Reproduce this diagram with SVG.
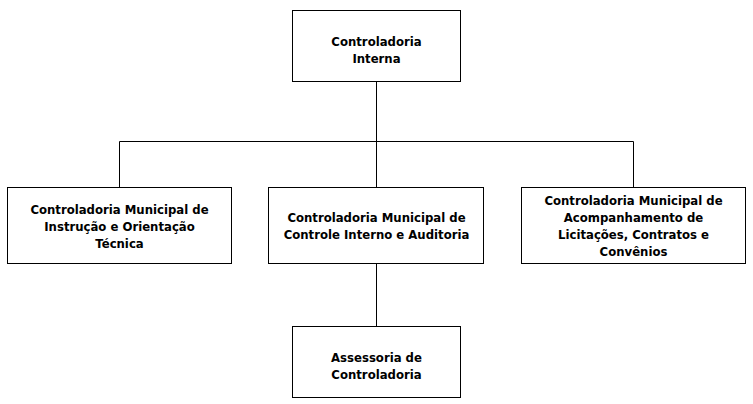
<svg xmlns="http://www.w3.org/2000/svg" width="753" height="404" viewBox="0 0 753 404">
<style>
.box{fill:#fff;stroke:#000;stroke-width:1}
.t{font-family:"DejaVu Sans","Liberation Sans",sans-serif;font-weight:bold;font-size:11.7px;text-anchor:middle;fill:#000}
.c{stroke:#000;stroke-width:1;fill:none}
</style>
<rect width="753" height="404" fill="#fff"/>
<g id="connectors">
<path class="c" d="M376.5 81V141.5M119.5 141.5H633.5M119.5 141.5V187M376.5 141.5V187M633.5 141.5V187M376.5 263V326"/>
</g>
<g id="n-top">
<rect class="box" x="292.5" y="10.5" width="168" height="71"/>
<text class="t" x="376.5" y="46">Controladoria</text>
<text class="t" x="376.5" y="63">Interna</text>
</g>
<g id="n-left">
<rect class="box" x="7.5" y="187.5" width="224" height="76"/>
<text class="t" x="119.5" y="214">Controladoria Municipal de</text>
<text class="t" x="119.5" y="231">Instrução e Orientação</text>
<text class="t" x="119.5" y="248">Técnica</text>
</g>
<g id="n-mid">
<rect class="box" x="268.5" y="187.5" width="215" height="76"/>
<text class="t" x="376.5" y="222">Controladoria Municipal de</text>
<text class="t" x="376.5" y="239">Controle Interno e Auditoria</text>
</g>
<g id="n-right">
<rect class="box" x="521.5" y="187.5" width="224" height="76"/>
<text class="t" x="633.5" y="205">Controladoria Municipal de</text>
<text class="t" x="633.5" y="222">Acompanhamento de</text>
<text class="t" x="633.5" y="239">Licitações, Contratos e</text>
<text class="t" x="633.5" y="256">Convênios</text>
</g>
<g id="n-bottom">
<rect class="box" x="292.5" y="326.5" width="168" height="71"/>
<text class="t" x="376.5" y="362">Assessoria de</text>
<text class="t" x="376.5" y="379">Controladoria</text>
</g>
</svg>
